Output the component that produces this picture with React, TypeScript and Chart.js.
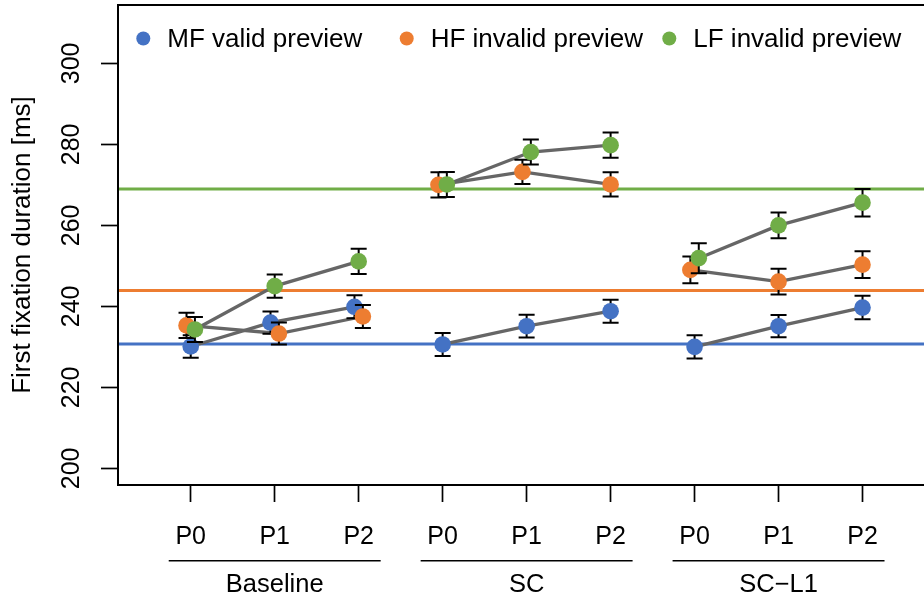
import React, { useEffect, useRef } from "react";
import { Chart, registerables } from "chart.js";

Chart.register(...registerables);

// Categories
const groupLabels = ["Baseline", "SC", "SC\u2212L1"];
const phaseLabels = ["P0", "P1", "P2"];
const seriesLabels = ["MF valid preview", "HF invalid preview", "LF invalid preview"];
const seriesColors = ["#4472C4", "#ED7D31", "#70AD47"];

// Mean first fixation duration (ms): Baseline P0-P2, SC P0-P2, SC-L1 P0-P2
const mfMeans = [230.1, 236.0, 239.9, 230.6, 235.1, 238.8, 230.0, 235.1, 239.7];
const hfMeans = [235.3, 233.3, 237.5, 270.0, 273.2, 270.1, 249.0, 246.1, 250.3];
const lfMeans = [234.3, 245.0, 251.1, 270.1, 278.1, 279.8, 251.9, 260.0, 265.6];

// Standard errors (ms)
const mfErrors = [2.8, 2.75, 2.85, 2.85, 2.8, 2.85, 2.9, 2.75, 2.9];
const hfErrors = [3.1, 2.7, 2.85, 3.1, 3.0, 3.0, 3.3, 3.2, 3.3];
const lfErrors = [3.1, 2.85, 3.1, 3.1, 3.1, 3.1, 3.7, 3.2, 3.4];

// Side-by-side nudge for overlapping points (-1 left, 0 none, +1 right)
const mfDodge = [0, -1, -1, 0, 0, 0, 0, 0, 0];
const hfDodge = [-1, 1, 1, -1, -1, 0, -1, 0, 0];
const lfDodge = [1, 0, 0, 1, 1, 0, 1, 0, 0];

// Grand mean per preview condition (ms)
const grandMeans = [230.7, 243.9, 269.0];

// Axis ticks
const yTicks = [200, 220, 240, 260, 280, 300];

const X_MIN = 0.134;
const X_MAX = 9.732;
const Y_MIN = 195.9;
const Y_MAX = 314.4;
const DODGE_STEP = 0.05;
const FONT = "'Liberation Sans', Arial, Helvetica, sans-serif";

// legend key positions along the top of the plot
const LEGEND_DOT_X = [143.3, 406.7, 669.3];
const LEGEND_Y = 38.5;

const errorBarPlugin = {
  id: "errorBars",
  beforeDatasetDraw(chart: any, args: any) {
    const ds = chart.data.datasets[args.index];
    if (!ds.errors) return;
    const { ctx } = chart;
    const xs = chart.scales.x;
    const ys = chart.scales.y;
    ctx.save();
    ctx.strokeStyle = "#000";
    ctx.lineWidth = 2;
    ds.data.forEach((p: any, i: number) => {
      const px = xs.getPixelForValue(p.x);
      const top = ys.getPixelForValue(p.y + ds.errors[i]);
      const bot = ys.getPixelForValue(p.y - ds.errors[i]);
      ctx.beginPath();
      ctx.moveTo(px, top);
      ctx.lineTo(px, bot);
      ctx.moveTo(px - 8, top);
      ctx.lineTo(px + 8, top);
      ctx.moveTo(px - 8, bot);
      ctx.lineTo(px + 8, bot);
      ctx.stroke();
    });
    ctx.restore();
  },
};

const framePlugin = {
  id: "frameLegendGroups",
  afterDraw(chart: any) {
    const { ctx, chartArea } = chart;
    const xs = chart.scales.x;
    ctx.save();

    // plot box (left, top, bottom)
    ctx.strokeStyle = "#000";
    ctx.lineWidth = 2;
    ctx.beginPath();
    ctx.moveTo(chartArea.right + 2, chartArea.top);
    ctx.lineTo(chartArea.left, chartArea.top);
    ctx.lineTo(chartArea.left, chartArea.bottom);
    ctx.lineTo(chartArea.right + 2, chartArea.bottom);
    ctx.stroke();

    // group brackets and names under the phase labels
    ctx.lineWidth = 1.6;
    ctx.fillStyle = "#000";
    ctx.font = `25.5px ${FONT}`;
    ctx.textAlign = "center";
    ctx.textBaseline = "alphabetic";
    groupLabels.forEach((g, gi) => {
      const x0 = xs.getPixelForValue(gi * 3 + 1);
      const x2 = xs.getPixelForValue(gi * 3 + 3);
      ctx.beginPath();
      ctx.moveTo(x0 - 22, 560.7);
      ctx.lineTo(x2 + 22, 560.7);
      ctx.stroke();
      ctx.fillText(g, (x0 + x2) / 2, 591.5);
    });

    // legend inside the top of the plot
    ctx.font = `26px ${FONT}`;
    ctx.textAlign = "left";
    ctx.textBaseline = "middle";
    seriesLabels.forEach((label, i) => {
      const dotX = LEGEND_DOT_X[i];
      ctx.fillStyle = seriesColors[i];
      ctx.beginPath();
      ctx.arc(dotX, LEGEND_Y, 7, 0, Math.PI * 2);
      ctx.fill();
      ctx.fillStyle = "#000";
      ctx.fillText(label, dotX + 24, LEGEND_Y + 1);
    });

    ctx.restore();
  },
};

export default function App() {
  const canvasRef = useRef<HTMLCanvasElement>(null);

  useEffect(() => {
    const canvas = canvasRef.current;
    if (!canvas) return;

    const means = [mfMeans, hfMeans, lfMeans];
    const errors = [mfErrors, hfErrors, lfErrors];
    const dodges = [mfDodge, hfDodge, lfDodge];

    const points = means.map((vals, s) =>
      vals.map((v, i) => ({ x: i + 1 + dodges[s][i] * DODGE_STEP, y: v }))
    );

    const refDatasets = grandMeans.map((v, s) => ({
      type: "line",
      label: `mean ${seriesLabels[s]}`,
      data: [
        { x: X_MIN - 1, y: v },
        { x: X_MAX + 1, y: v },
      ],
      showLine: true,
      borderColor: seriesColors[s],
      borderWidth: 3,
      pointRadius: 0,
      order: 10,
    }));

    const lineDatasets = points.map((pts, s) => ({
      type: "line",
      label: `trend ${seriesLabels[s]}`,
      data: pts,
      showLine: true,
      borderColor: "#666666",
      borderWidth: 3.3,
      pointRadius: 0,
      segment: {
        borderColor: (ctx: any) => (ctx.p0DataIndex % 3 === 2 ? "rgba(0,0,0,0)" : "#666666"),
      },
      order: 6,
    }));

    const pointDatasets = points.map((pts, s) => ({
      type: "scatter",
      label: seriesLabels[s],
      data: pts,
      errors: errors[s],
      showLine: false,
      pointRadius: 8.3,
      pointHoverRadius: 8.3,
      pointBorderWidth: 0,
      backgroundColor: seriesColors[s],
      borderColor: seriesColors[s],
      order: 3 - s,
    }));

    const chart = new Chart(canvas, {
      type: "scatter",
      data: { datasets: [...refDatasets, ...lineDatasets, ...pointDatasets] as any },
      options: {
        responsive: false,
        maintainAspectRatio: false,
        animation: false,
        events: [],
        layout: { autoPadding: false, padding: { top: 5, left: 0, right: 0, bottom: 0 } },
        plugins: {
          legend: { display: false },
          tooltip: { enabled: false },
        },
        scales: {
          x: {
            type: "linear",
            min: X_MIN,
            max: X_MAX,
            afterBuildTicks: (scale: any) => {
              scale.ticks = [1, 2, 3, 4, 5, 6, 7, 8, 9].map((v) => ({ value: v }));
            },
            afterFit: (scale: any) => {
              scale.height = 113;
              scale.paddingLeft = 0;
              scale.paddingRight = 0;
            },
            border: { display: false },
            grid: {
              drawOnChartArea: false,
              drawTicks: true,
              tickLength: 17,
              tickColor: "#000",
              tickWidth: 1.7,
            },
            ticks: {
              autoSkip: false,
              maxRotation: 0,
              minRotation: 0,
              padding: 20,
              color: "#000",
              font: { family: FONT, size: 25 },
              callback: (_v: any, i: number) => phaseLabels[i % 3],
            },
          },
          y: {
            type: "linear",
            min: Y_MIN,
            max: Y_MAX,
            afterBuildTicks: (scale: any) => {
              scale.ticks = yTicks.map((v) => ({ value: v }));
            },
            afterFit: (scale: any) => {
              scale.width = 118;
              scale.paddingTop = 0;
              scale.paddingBottom = 0;
            },
            border: { display: false },
            grid: {
              drawOnChartArea: false,
              drawTicks: true,
              tickLength: 17,
              tickColor: "#000",
              tickWidth: 1.7,
            },
            ticks: {
              minRotation: 90,
              maxRotation: 90,
              crossAlign: "center",
              padding: 8,
              color: "#000",
              font: { family: FONT, size: 25 },
              callback: (v: any) => String(v),
            },
            title: {
              display: true,
              text: "First fixation duration [ms]",
              color: "#000",
              font: { family: FONT, size: 26 },
              padding: { top: 7, bottom: 0 },
            },
          },
        },
      },
      plugins: [errorBarPlugin, framePlugin],
    } as any);

    return () => chart.destroy();
  }, []);

  return (
    <div style={{ position: "absolute", left: 0, top: 0, width: 924, height: 598, background: "#fff" }}>
      <canvas ref={canvasRef} width={924} height={598} style={{ display: "block", width: 924, height: 598 }} />
    </div>
  );
}
